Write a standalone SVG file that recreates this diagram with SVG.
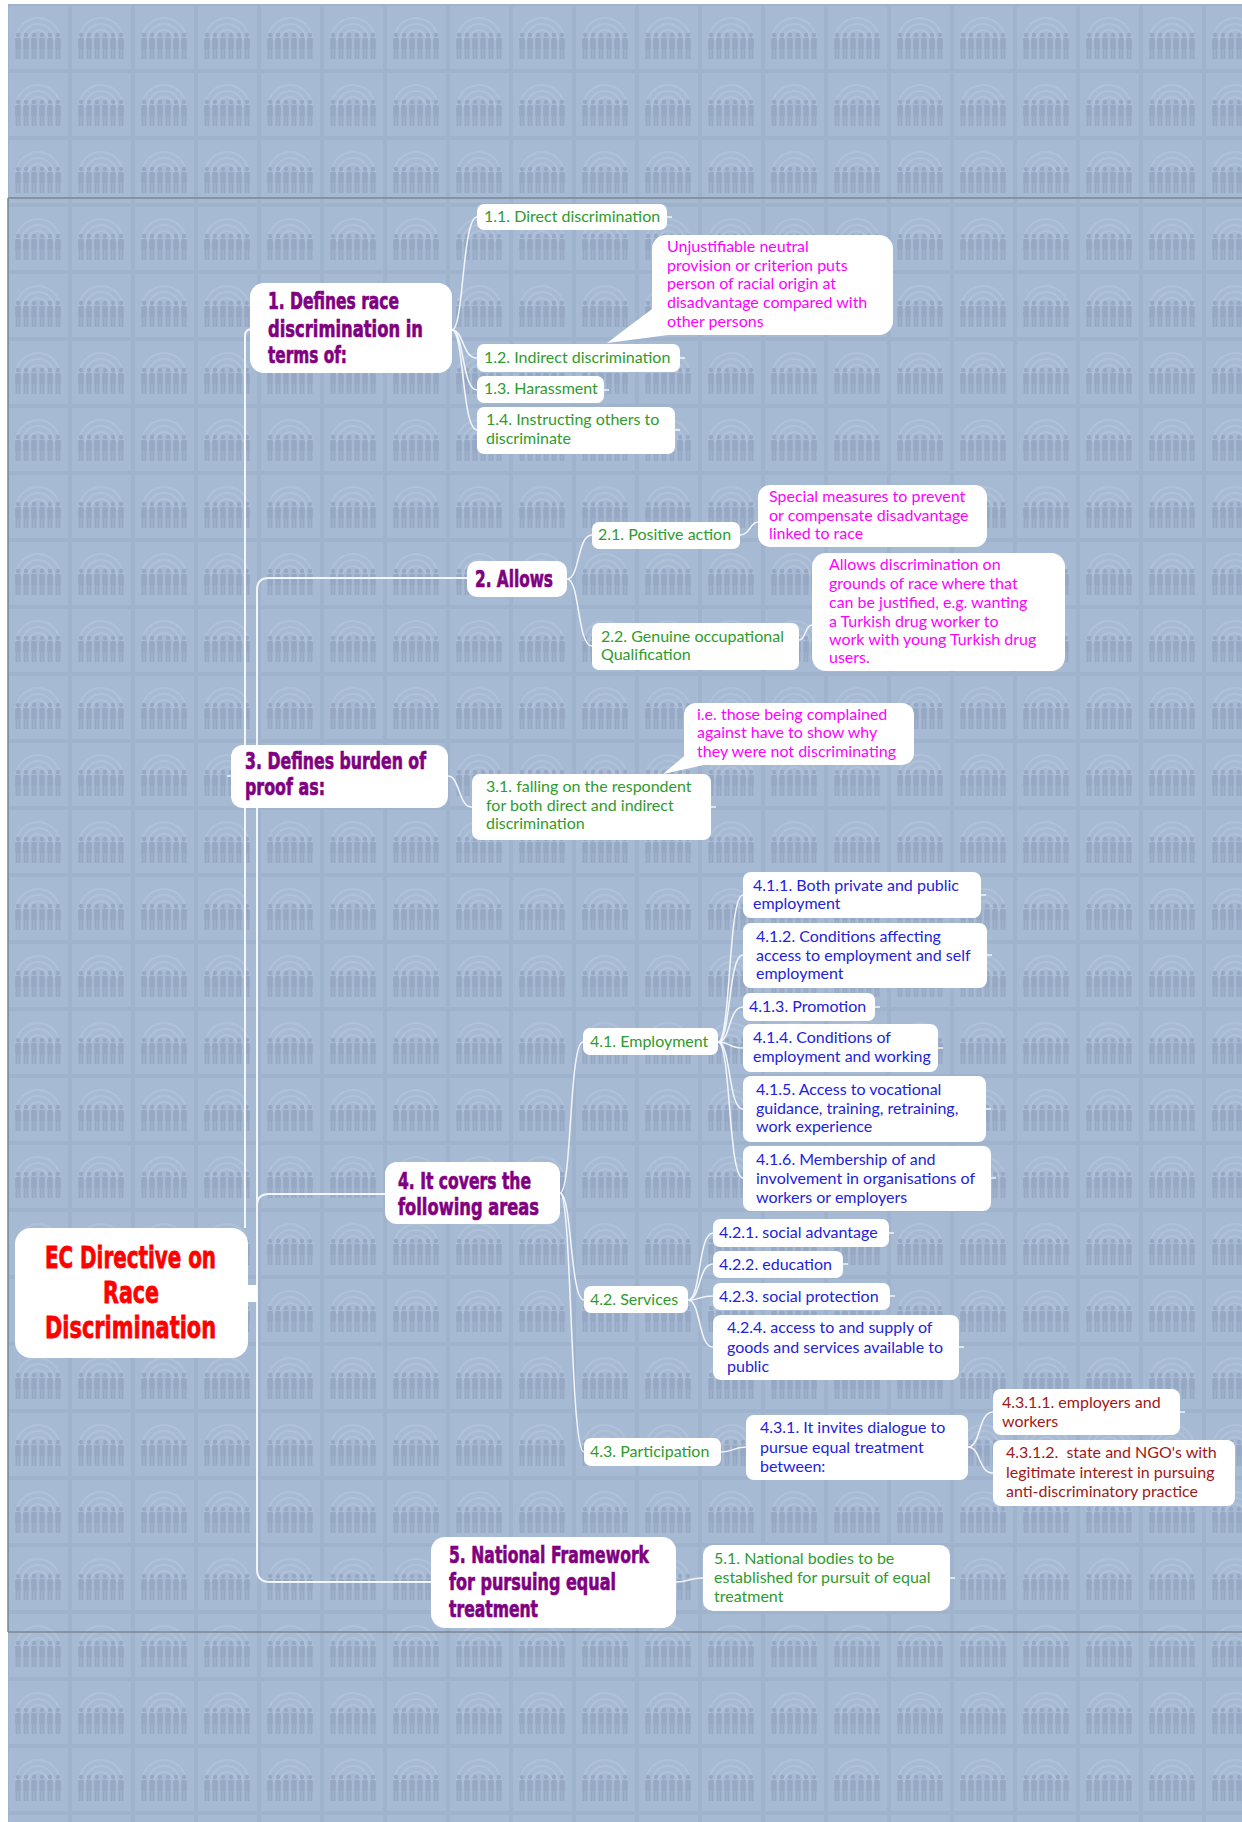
<svg xmlns="http://www.w3.org/2000/svg" width="1242" height="1822" viewBox="0 0 1242 1822">
<defs>
<pattern id="tile" patternUnits="userSpaceOnUse" x="7" y="4" width="63" height="67">
<rect width="63" height="67" fill="#9fb3cd"/>
<rect x="2" y="2" width="59" height="63" fill="#a7bad4"/>
<path d="M9 36 A22 22 0 0 1 53 36 M15 36 A16 16 0 0 1 47 36 M21 36 A10 10 0 0 1 41 36" stroke="#b0c2d9" stroke-width="2" fill="none"/>
<g fill="#96a8c3">
<circle cx="11" cy="31" r="2.2"/><rect x="8.2" y="34" width="5.6" height="11" rx="1"/><rect x="8.6" y="44" width="2" height="11"/><rect x="11.4" y="44" width="2" height="11"/>
<circle cx="19" cy="31" r="2.2"/><rect x="16.2" y="34" width="5.6" height="11" rx="1"/><rect x="16.6" y="44" width="2" height="11"/><rect x="19.4" y="44" width="2" height="11"/>
<circle cx="27" cy="31" r="2.2"/><rect x="24.2" y="34" width="5.6" height="11" rx="1"/><rect x="24.6" y="44" width="2" height="11"/><rect x="27.4" y="44" width="2" height="11"/>
<circle cx="35" cy="31" r="2.2"/><rect x="32.2" y="34" width="5.6" height="11" rx="1"/><rect x="32.6" y="44" width="2" height="11"/><rect x="35.4" y="44" width="2" height="11"/>
<circle cx="43" cy="31" r="2.2"/><rect x="40.2" y="34" width="5.6" height="11" rx="1"/><rect x="40.6" y="44" width="2" height="11"/><rect x="43.4" y="44" width="2" height="11"/>
<circle cx="51" cy="31" r="2.2"/><rect x="48.2" y="34" width="5.6" height="11" rx="1"/><rect x="48.6" y="44" width="2" height="11"/><rect x="51.4" y="44" width="2" height="11"/>
</g>
</pattern>
</defs>
<style>
.box{fill:#ffffff}
.t{font-family:Lato,"Liberation Sans",sans-serif;font-size:16px}
.g{fill:#2e9b2e}
.m{fill:#ff00ff}
.b{fill:#2222dd}
.r{fill:#a01818}
.h{font-family:"DejaVu Sans","Liberation Sans",sans-serif;font-weight:bold;font-size:23px;fill:#800080;stroke:#800080;stroke-width:0.7}
.root{font-family:"DejaVu Sans","Liberation Sans",sans-serif;font-weight:bold;font-size:30px;fill:#ff0000;stroke:#ff0000;stroke-width:0.8}
.c{fill:none;stroke:#f2f5f9;stroke-width:1.5}
.trunk{fill:none;stroke:#f2f5f9;stroke-width:2}
.frame{fill:none;stroke:#7d8692;stroke-width:1.5}
</style>
<rect width="1242" height="1822" fill="#ffffff"/>
<rect x="8" y="4" width="1234" height="1818" fill="url(#tile)"/>
<path class="frame" d="M8 198 H1242 M8 198 V1632 M8 1632 H1242"/>

<g id="connectors">
<path class="trunk" d="M245 1228 V336 Q245 329 252 329"/>
<path class="trunk" d="M257 1293 V590 Q257 578 269 578 H467"/>
<path class="trunk" d="M257 1293 V1206 Q257 1194 269 1194 H385"/>
<path class="trunk" d="M257 1293 V1569 Q257 1582 270 1582 H431"/>
<path class="c" d="M227 776 H232"/>
<path class="c" d="M452 330 C464 330 462 217 477 217 M452 330 C464 330 462 358 477 358 M452 330 C464 330 462 390 477 390 M452 330 C464 330 462 430 477 430"/>
<path class="c" d="M567 579 C580 579 577 535 592 535 M567 579 C580 579 577 646 592 646"/>
<path class="c" d="M740 535 C750 535 750 522 758 522"/>
<path class="c" d="M799 640 C806 640 805 625 812 625"/>
<path class="c" d="M448 776 C460 776 458 807 472 807"/>
<path class="c" d="M560 1193 C572 1193 569 1042 583 1042 M560 1193 C572 1193 570 1300 584 1300 M560 1193 C572 1193 570 1452 584 1452"/>
<path class="c" d="M718 1042 C731 1042 728 895 743 895 M718 1042 C731 1042 728 955 743 955 M718 1042 C731 1042 728 1007 743 1007 M718 1042 C731 1042 728 1048 743 1048 M718 1042 C731 1042 728 1109 743 1109 M718 1042 C731 1042 728 1178 743 1178"/>
<path class="c" d="M688 1300 C701 1300 698 1233 713 1233 M688 1300 C701 1300 698 1264 713 1264 M688 1300 C701 1300 698 1296 713 1296 M688 1300 C701 1300 698 1347 713 1347"/>
<path class="c" d="M721 1452 C734 1452 732 1447 746 1447"/>
<path class="c" d="M968 1447 C981 1447 978 1412 993 1412 M968 1447 C981 1447 978 1473 993 1473"/>
<path class="c" d="M676 1582 C690 1582 688 1578 703 1578"/>
<path class="c" d="M667 217 h5 M680 358 h5 M604 390 h5 M675 430 h5 M711 807 h5 M981 895 h5 M987 955 h5 M875 1007 h5 M938 1048 h5 M986 1109 h5 M991 1178 h5 M889 1233 h5 M843 1264 h5 M890 1296 h5 M959 1347 h5 M1180 1412 h5 M950 1578 h5"/>
</g>

<g id="root">
<rect class="box" x="15" y="1228" width="233" height="130" rx="16"/>
<rect class="box" x="246" y="1285" width="11" height="17"/>
<text class="root" x="45" y="1268" textLength="171" lengthAdjust="spacingAndGlyphs">EC Directive on</text>
<text class="root" x="103" y="1303" textLength="56" lengthAdjust="spacingAndGlyphs">Race</text>
<text class="root" x="45" y="1338" textLength="171" lengthAdjust="spacingAndGlyphs">Discrimination</text>
</g>

<g id="n1">
<rect class="box" x="250" y="283" width="202" height="90" rx="14"/>
<text class="h" x="268" y="309" textLength="131" lengthAdjust="spacingAndGlyphs">1. Defines race</text>
<text class="h" x="268" y="337" textLength="155" lengthAdjust="spacingAndGlyphs">discrimination in</text>
<text class="h" x="268" y="363" textLength="79" lengthAdjust="spacingAndGlyphs">terms of:</text>
</g>
<g id="n1_1">
<rect class="box" x="477" y="204" width="190" height="26" rx="7"/>
<text class="t g" x="484" y="222">1.1. Direct discrimination</text>
</g>
<g id="n1_2_note">
<polygon class="box" points="607,343 656,306 676,334"/>
<rect class="box" x="652" y="235" width="241" height="100" rx="14"/>
<text class="t m" x="667" y="252">Unjustifiable neutral</text>
<text class="t m" x="667" y="271">provision or criterion puts</text>
<text class="t m" x="667" y="289">person of racial origin at</text>
<text class="t m" x="667" y="308">disadvantage compared with</text>
<text class="t m" x="667" y="327">other persons</text>
</g>
<g id="n1_2">
<rect class="box" x="477" y="344" width="203" height="28" rx="7"/>
<text class="t g" x="484" y="363">1.2. Indirect discrimination</text>
</g>
<g id="n1_3">
<rect class="box" x="477" y="376" width="127" height="27" rx="7"/>
<text class="t g" x="484" y="394">1.3. Harassment</text>
</g>
<g id="n1_4">
<rect class="box" x="477" y="407" width="198" height="47" rx="7"/>
<text class="t g" x="486" y="425">1.4. Instructing others to</text>
<text class="t g" x="486" y="444">discriminate</text>
</g>

<g id="n2">
<rect class="box" x="467" y="561" width="100" height="36" rx="10"/>
<text class="h" x="475" y="587" textLength="78" lengthAdjust="spacingAndGlyphs">2. Allows</text>
</g>
<g id="n2_1">
<rect class="box" x="592" y="522" width="148" height="27" rx="7"/>
<text class="t g" x="598" y="540">2.1. Positive action</text>
</g>
<g id="n2_1_note">
<rect class="box" x="758" y="485" width="229" height="62" rx="12"/>
<text class="t m" x="769" y="502">Special measures to prevent</text>
<text class="t m" x="769" y="521">or compensate disadvantage</text>
<text class="t m" x="769" y="539">linked to race</text>
</g>
<g id="n2_2">
<rect class="box" x="592" y="623" width="207" height="47" rx="7"/>
<text class="t g" x="601" y="642">2.2. Genuine occupational</text>
<text class="t g" x="601" y="660">Qualification</text>
</g>
<g id="n2_2_note">
<rect class="box" x="812" y="553" width="253" height="118" rx="14"/>
<text class="t m" x="829" y="570">Allows discrimination on</text>
<text class="t m" x="829" y="589">grounds of race where that</text>
<text class="t m" x="829" y="608">can be justified, e.g. wanting</text>
<text class="t m" x="829" y="627">a Turkish drug worker to</text>
<text class="t m" x="829" y="645">work with young Turkish drug</text>
<text class="t m" x="829" y="663">users.</text>
</g>

<g id="n3">
<rect class="box" x="231" y="745" width="217" height="63" rx="12"/>
<text class="h" x="245" y="769" textLength="181" lengthAdjust="spacingAndGlyphs">3. Defines burden of</text>
<text class="h" x="245" y="795" textLength="80" lengthAdjust="spacingAndGlyphs">proof as:</text>
</g>
<g id="n3_1_note">
<polygon class="box" points="663,774 689,752 704,765"/>
<rect class="box" x="684" y="703" width="230" height="62" rx="12"/>
<text class="t m" x="697" y="720">i.e. those being complained</text>
<text class="t m" x="697" y="738">against have to show why</text>
<text class="t m" x="697" y="757">they were not discriminating</text>
</g>
<g id="n3_1">
<rect class="box" x="472" y="774" width="239" height="66" rx="8"/>
<text class="t g" x="486" y="792">3.1. falling on the respondent</text>
<text class="t g" x="486" y="811">for both direct and indirect</text>
<text class="t g" x="486" y="829">discrimination</text>
</g>

<g id="n4">
<rect class="box" x="385" y="1162" width="175" height="62" rx="12"/>
<text class="h" x="398" y="1189" textLength="133" lengthAdjust="spacingAndGlyphs">4. It covers the</text>
<text class="h" x="398" y="1215" textLength="141" lengthAdjust="spacingAndGlyphs">following areas</text>
</g>
<g id="n4_1">
<rect class="box" x="583" y="1028" width="135" height="27" rx="7"/>
<text class="t g" x="590" y="1047">4.1. Employment</text>
</g>
<g id="n4_1_1">
<rect class="box" x="743" y="872" width="238" height="46" rx="8"/>
<text class="t b" x="753" y="891">4.1.1. Both private and public</text>
<text class="t b" x="753" y="909">employment</text>
</g>
<g id="n4_1_2">
<rect class="box" x="743" y="923" width="244" height="65" rx="8"/>
<text class="t b" x="756" y="942">4.1.2. Conditions affecting</text>
<text class="t b" x="756" y="961">access to employment and self</text>
<text class="t b" x="756" y="979">employment</text>
</g>
<g id="n4_1_3">
<rect class="box" x="743" y="993" width="132" height="28" rx="7"/>
<text class="t b" x="749" y="1012">4.1.3. Promotion</text>
</g>
<g id="n4_1_4">
<rect class="box" x="743" y="1024" width="195" height="48" rx="8"/>
<text class="t b" x="753" y="1043">4.1.4. Conditions of</text>
<text class="t b" x="753" y="1062">employment and working</text>
</g>
<g id="n4_1_5">
<rect class="box" x="743" y="1076" width="243" height="66" rx="8"/>
<text class="t b" x="756" y="1095">4.1.5. Access to vocational</text>
<text class="t b" x="756" y="1114">guidance, training, retraining,</text>
<text class="t b" x="756" y="1132">work experience</text>
</g>
<g id="n4_1_6">
<rect class="box" x="743" y="1146" width="248" height="65" rx="8"/>
<text class="t b" x="756" y="1165">4.1.6. Membership of and</text>
<text class="t b" x="756" y="1184">involvement in organisations of</text>
<text class="t b" x="756" y="1203">workers or employers</text>
</g>
<g id="n4_2">
<rect class="box" x="584" y="1286" width="104" height="27" rx="7"/>
<text class="t g" x="590" y="1305">4.2. Services</text>
</g>
<g id="n4_2_1">
<rect class="box" x="713" y="1219" width="176" height="28" rx="7"/>
<text class="t b" x="719" y="1238">4.2.1. social advantage</text>
</g>
<g id="n4_2_2">
<rect class="box" x="713" y="1251" width="130" height="27" rx="7"/>
<text class="t b" x="719" y="1270">4.2.2. education</text>
</g>
<g id="n4_2_3">
<rect class="box" x="713" y="1283" width="177" height="27" rx="7"/>
<text class="t b" x="719" y="1302">4.2.3. social protection</text>
</g>
<g id="n4_2_4">
<rect class="box" x="713" y="1315" width="246" height="65" rx="8"/>
<text class="t b" x="727" y="1333">4.2.4. access to and supply of</text>
<text class="t b" x="727" y="1353">goods and services available to</text>
<text class="t b" x="727" y="1372">public</text>
</g>
<g id="n4_3">
<rect class="box" x="584" y="1438" width="137" height="28" rx="7"/>
<text class="t g" x="590" y="1457">4.3. Participation</text>
</g>
<g id="n4_3_1">
<rect class="box" x="746" y="1415" width="222" height="65" rx="8"/>
<text class="t b" x="760" y="1433">4.3.1. It invites dialogue to</text>
<text class="t b" x="760" y="1453">pursue equal treatment</text>
<text class="t b" x="760" y="1472">between:</text>
</g>
<g id="n4_3_1_1">
<rect class="box" x="993" y="1389" width="187" height="46" rx="8"/>
<text class="t r" x="1002" y="1408">4.3.1.1. employers and</text>
<text class="t r" x="1002" y="1427">workers</text>
</g>
<g id="n4_3_1_2">
<rect class="box" x="993" y="1440" width="242" height="66" rx="8"/>
<text class="t r" x="1006" y="1458" xml:space="preserve">4.3.1.2.  state and NGO's with</text>
<text class="t r" x="1006" y="1478">legitimate interest in pursuing</text>
<text class="t r" x="1006" y="1497">anti-discriminatory practice</text>
</g>

<g id="n5">
<rect class="box" x="431" y="1537" width="245" height="91" rx="14"/>
<text class="h" x="449" y="1563" textLength="200" lengthAdjust="spacingAndGlyphs">5. National Framework</text>
<text class="h" x="449" y="1590" textLength="167" lengthAdjust="spacingAndGlyphs">for pursuing equal</text>
<text class="h" x="449" y="1617" textLength="89" lengthAdjust="spacingAndGlyphs">treatment</text>
</g>
<g id="n5_1">
<rect class="box" x="703" y="1545" width="247" height="66" rx="10"/>
<text class="t g" x="714" y="1564">5.1. National bodies to be</text>
<text class="t g" x="714" y="1583">established for pursuit of equal</text>
<text class="t g" x="714" y="1602">treatment</text>
</g>
</svg>
